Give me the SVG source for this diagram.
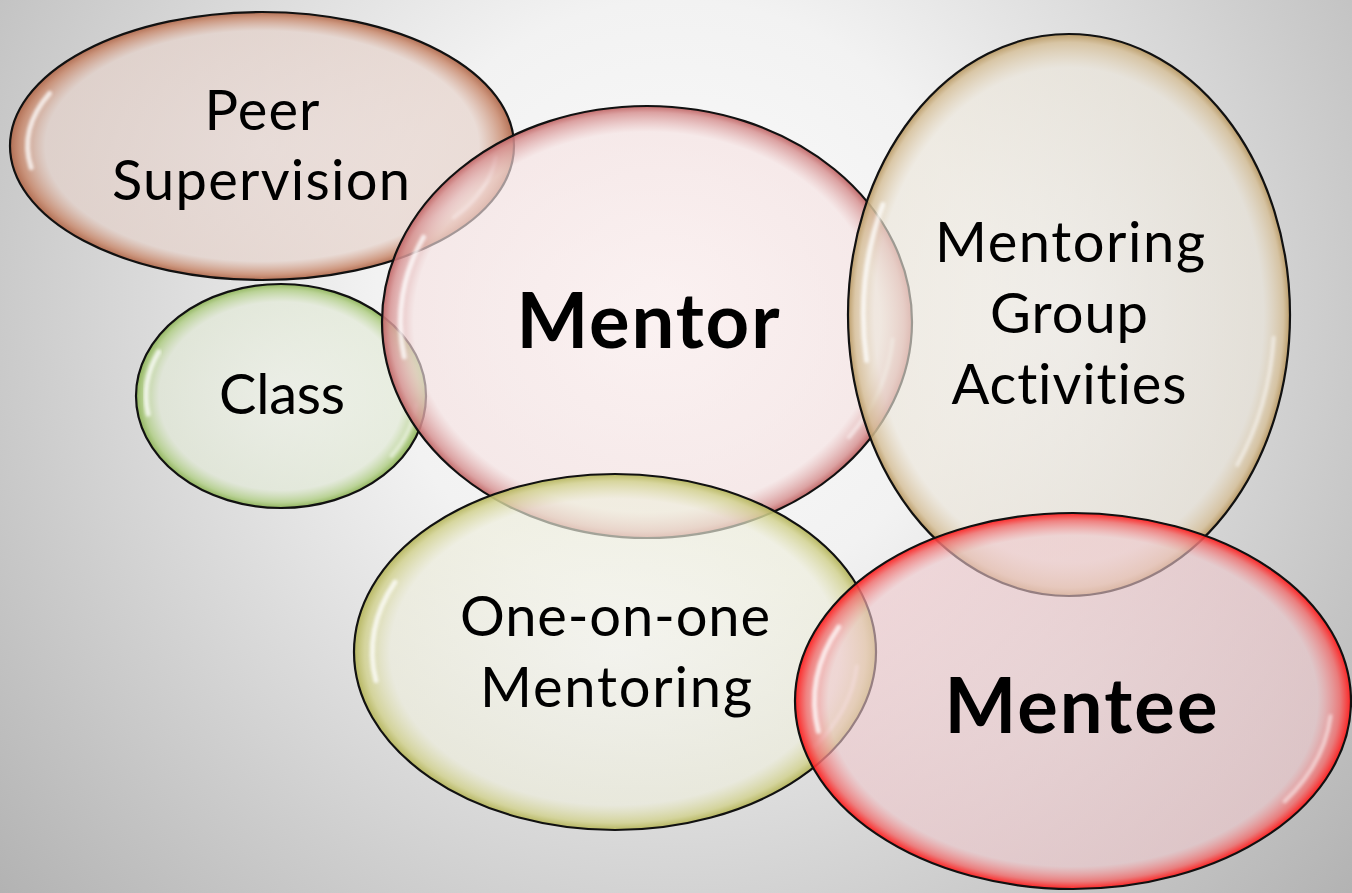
<svg xmlns="http://www.w3.org/2000/svg" width="1352" height="893" viewBox="0 0 1352 893">
<defs>
<radialGradient id="bg" gradientUnits="userSpaceOnUse" cx="676" cy="300" r="1000">
<stop offset="0" stop-color="#fbfbfb"/>
<stop offset="0.3" stop-color="#f2f2f2"/>
<stop offset="1" stop-color="#a8a8a8"/>
</radialGradient>
<radialGradient id="gPeer" cx="50%" cy="50%" r="50%">
<stop offset="0" stop-color="#ead8d2" stop-opacity="0.66"/>
<stop offset="0.86" stop-color="#e6d2ca" stop-opacity="0.68"/>
<stop offset="0.96" stop-color="#c98a6e" stop-opacity="0.85"/>
<stop offset="1" stop-color="#b0694c" stop-opacity="0.95"/>
</radialGradient>
<radialGradient id="gMentor" cx="50%" cy="50%" r="50%">
<stop offset="0" stop-color="#fbecec" stop-opacity="0.62"/>
<stop offset="0.88" stop-color="#f6e2e2" stop-opacity="0.64"/>
<stop offset="0.97" stop-color="#d79393" stop-opacity="0.85"/>
<stop offset="1" stop-color="#c06464" stop-opacity="0.95"/>
</radialGradient>
<radialGradient id="gClass" cx="50%" cy="50%" r="50%">
<stop offset="0" stop-color="#eef2e6" stop-opacity="0.64"/>
<stop offset="0.84" stop-color="#e2ead6" stop-opacity="0.66"/>
<stop offset="0.95" stop-color="#b2cf88" stop-opacity="0.85"/>
<stop offset="1" stop-color="#8cb256" stop-opacity="0.95"/>
</radialGradient>
<radialGradient id="gGroup" cx="50%" cy="50%" r="50%">
<stop offset="0" stop-color="#f3efe8" stop-opacity="0.62"/>
<stop offset="0.88" stop-color="#ece6da" stop-opacity="0.64"/>
<stop offset="0.97" stop-color="#d6c09a" stop-opacity="0.85"/>
<stop offset="1" stop-color="#b89862" stop-opacity="0.95"/>
</radialGradient>
<radialGradient id="gOne" cx="50%" cy="50%" r="50%">
<stop offset="0" stop-color="#f6f6ee" stop-opacity="0.64"/>
<stop offset="0.86" stop-color="#eeeedc" stop-opacity="0.66"/>
<stop offset="0.96" stop-color="#d2d290" stop-opacity="0.85"/>
<stop offset="1" stop-color="#b4b45a" stop-opacity="0.95"/>
</radialGradient>
<radialGradient id="gMentee" cx="50%" cy="50%" r="50%">
<stop offset="0" stop-color="#f2cfd2" stop-opacity="0.58"/>
<stop offset="0.88" stop-color="#f0c8cc" stop-opacity="0.6"/>
<stop offset="0.96" stop-color="#f07070" stop-opacity="0.85"/>
<stop offset="1" stop-color="#ff1a1a" stop-opacity="0.95"/>
</radialGradient>
<filter id="soft" x="-20%" y="-20%" width="140%" height="140%">
<feGaussianBlur stdDeviation="1.6"/>
</filter>
</defs>
<style>
.bub{stroke:#111;stroke-width:2.2}
.hl{fill:none;stroke:#ffffff;stroke-width:5;stroke-linecap:round;opacity:0.75;filter:url(#soft)}
.hl2{fill:none;stroke:#ffffff;stroke-width:4;stroke-linecap:round;opacity:0.5;filter:url(#soft)}
.lbl{font-family:Lato,"Open Sans","Liberation Sans",sans-serif;font-size:56px;fill:#000;text-anchor:middle;font-variant-ligatures:none}
.big{font-family:Lato,"Open Sans","Liberation Sans",sans-serif;font-size:76px;font-weight:bold;fill:#000;text-anchor:middle;font-variant-ligatures:none}
</style>
<rect x="0" y="0" width="1352" height="893" fill="url(#bg)"/>

<g id="node-peer">
<ellipse class="bub" cx="262" cy="146" rx="252" ry="134" fill="url(#gPeer)"/>
<path class="hl" d="M49.6,93.3 A234.4,124.6 0 0 0 31.2,167.6"/>
<path class="hl2" d="M495.5,156.9 A234.4,124.6 0 0 1 454,217.5"/>
<text class="lbl" x="262" y="130" textLength="115">Peer</text>
<text class="lbl" x="261" y="200" textLength="298">Supervision</text>
</g>

<g id="node-class">
<ellipse class="bub" cx="281" cy="396" rx="145" ry="112" fill="url(#gClass)"/>
<path class="hl" d="M158.7,352 A134.9,104.2 0 0 0 148.2,414.1"/>
<path class="hl2" d="M415.4,405.1 A134.9,104.2 0 0 1 391.5,455.8"/>
<text class="lbl" x="282" y="414" textLength="126">Class</text>
</g>

<g id="node-mentor">
<ellipse class="bub" cx="647" cy="322" rx="265" ry="216" fill="url(#gMentor)"/>
<path class="hl" d="M423.6,237.1 A246.5,200.9 0 0 0 404.2,356.9"/>
<path class="hl2" d="M892.6,339.5 A246.5,200.9 0 0 1 848.9,437.2"/>
<text class="big" x="648" y="348" textLength="263">Mentor</text>
</g>

<g id="node-group">
<ellipse class="bub" cx="1069" cy="315" rx="221" ry="281" fill="url(#gGroup)"/>
<path class="hl" d="M882.8,204.6 A205.5,261.3 0 0 0 866.6,360.4"/>
<path class="hl2" d="M1273.7,337.8 A205.5,261.3 0 0 1 1237.3,464.9"/>
<text class="lbl" x="1070" y="262" textLength="270">Mentoring</text>
<text class="lbl" x="1069" y="333" textLength="158">Group</text>
<text class="lbl" x="1069" y="404" textLength="235">Activities</text>
</g>

<g id="node-one">
<ellipse class="bub" cx="615" cy="652" rx="261" ry="178" fill="url(#gOne)"/>
<path class="hl" d="M395,582.1 A242.7,165.5 0 0 0 376,680.7"/>
<path class="hl2" d="M856.8,666.4 A242.7,165.5 0 0 1 813.8,746.9"/>
<text class="lbl" x="615" y="636" textLength="310">One-on-one</text>
<text class="lbl" x="616" y="707" textLength="272">Mentoring</text>
</g>

<g id="node-mentee">
<ellipse class="bub" cx="1073" cy="701" rx="278" ry="188" fill="url(#gMentee)" stroke-width="2.6"/>
<path class="hl" d="M838.7,627.1 A258.5,174.8 0 0 0 818.4,731.3"/>
<path class="hl2" d="M1330.5,716.2 A258.5,174.8 0 0 1 1284.8,801.3"/>
<text class="big" x="1081" y="733" textLength="273">Mentee</text>
</g>

<g id="connectors"></g>
</svg>
